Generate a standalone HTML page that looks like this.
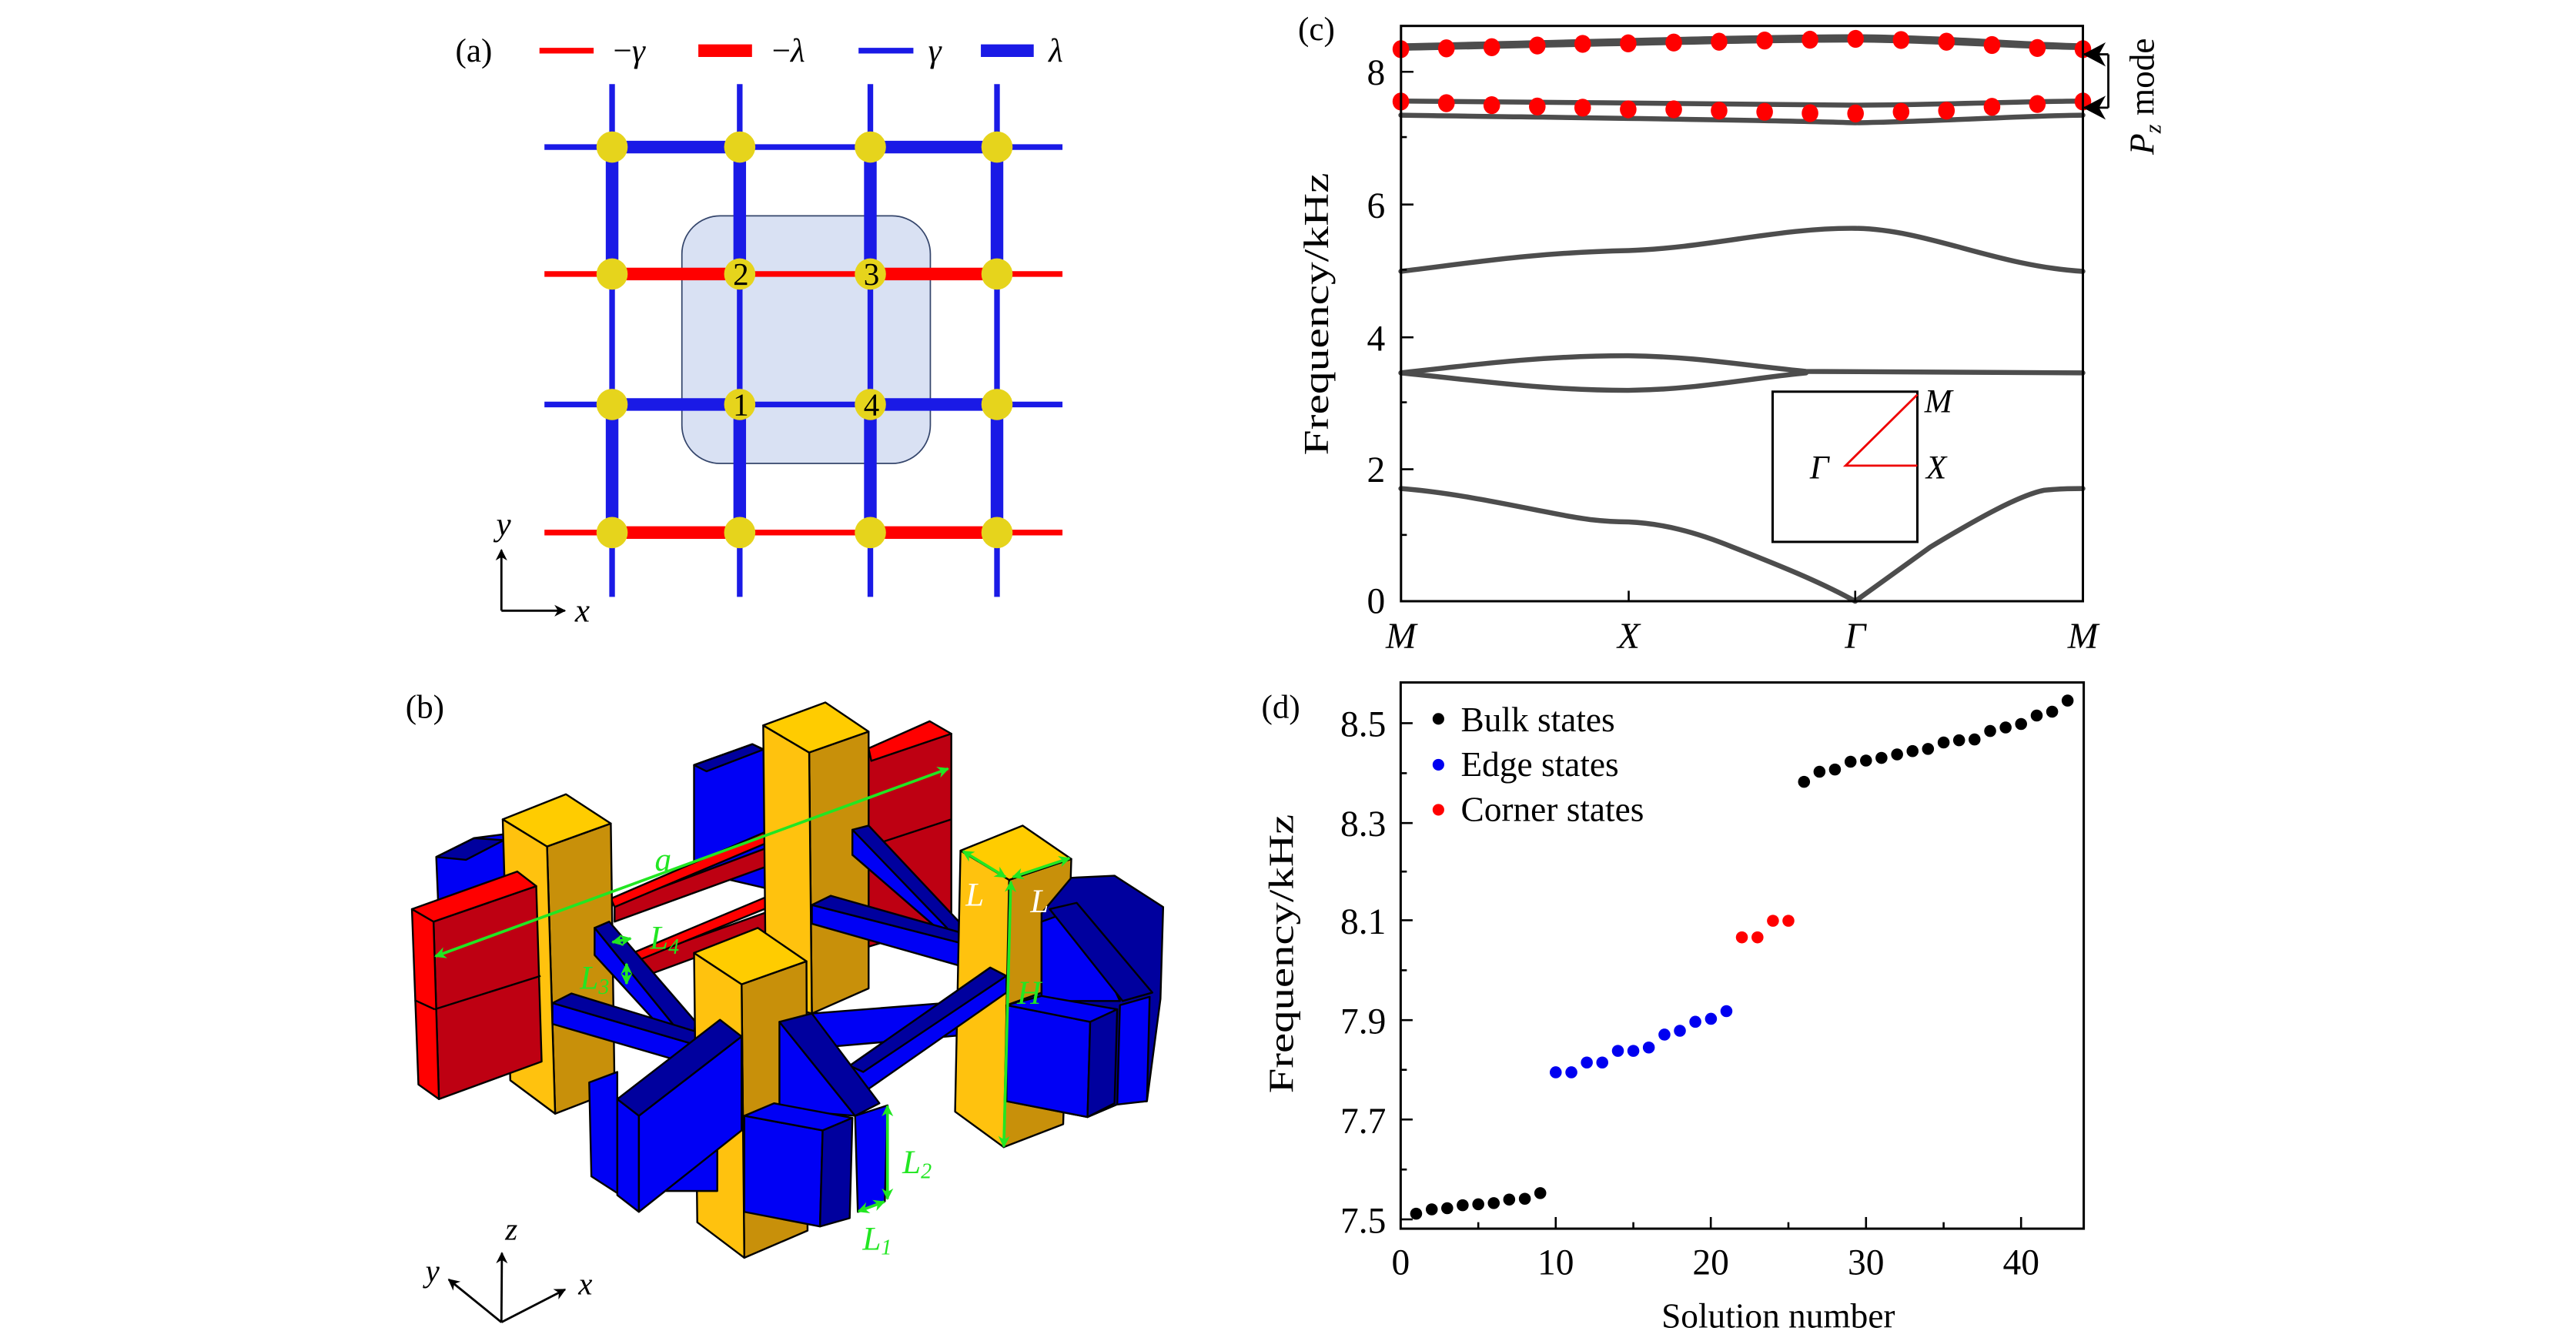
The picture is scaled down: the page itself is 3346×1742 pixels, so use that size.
<!DOCTYPE html>
<html><head><meta charset="utf-8"><style>
html,body{margin:0;padding:0;background:#fff;}
svg{display:block;}
text{font-family:"Liberation Serif",serif;}
.it{font-style:italic;}
.k{stroke:#000;stroke-width:2.4;vector-effect:non-scaling-stroke;stroke-linejoin:round;}
.g{fill:#22e622;}
.w{fill:#ffffff;}
</style></head><body>
<svg width="3346" height="1742" viewBox="0 0 1550 807" preserveAspectRatio="none" xmlns="http://www.w3.org/2000/svg">
<defs>
<marker id="ga" viewBox="0 0 10 10" refX="9" refY="5" markerWidth="7" markerHeight="7" orient="auto-start-reverse" markerUnits="userSpaceOnUse"><path d="M0,0 L10,5 L0,10 L3,5 Z" fill="#22e622"/></marker>
<marker id="ka" viewBox="0 0 10 10" refX="9" refY="5" markerWidth="7" markerHeight="7" orient="auto" markerUnits="userSpaceOnUse"><path d="M0,0 L10,5 L0,10 L3,5 Z" fill="#000"/></marker>
</defs>

<!-- ===== Panel (a) ===== -->
<text x="274" y="37" font-size="20">(a)</text>
<line x1="324.6" y1="30.5" x2="357.2" y2="30.5" stroke="#f00" stroke-width="3.4"/>
<text x="369" y="37" font-size="20">−<tspan class="it">γ</tspan></text>
<line x1="420.2" y1="30.5" x2="452.5" y2="30.5" stroke="#f00" stroke-width="7.6"/>
<text x="464.5" y="37" font-size="20">−<tspan class="it">λ</tspan></text>
<line x1="516.6" y1="30.5" x2="549.6" y2="30.5" stroke="#1a1ae6" stroke-width="3.4"/>
<text x="558.5" y="37" font-size="20" class="it">γ</text>
<line x1="590.2" y1="30.5" x2="622" y2="30.5" stroke="#1a1ae6" stroke-width="7.6"/>
<text x="631" y="37" font-size="20" class="it">λ</text>

<rect x="410.3" y="129.9" width="149.5" height="149" rx="23" fill="#d9e1f3" stroke="#34456b" stroke-width="0.8"/>
<g stroke-linecap="butt">
<g stroke="#1a1ae6">
<line x1="327.6" y1="88.5" x2="639.3" y2="88.5" stroke-width="3.4"/>
<line x1="368.3" y1="88.5" x2="445.1" y2="88.5" stroke-width="7.6"/>
<line x1="523.7" y1="88.5" x2="599.9" y2="88.5" stroke-width="7.6"/>
<line x1="327.6" y1="243.4" x2="639.3" y2="243.4" stroke-width="3.4"/>
<line x1="368.3" y1="243.4" x2="445.1" y2="243.4" stroke-width="7.6"/>
<line x1="523.7" y1="243.4" x2="599.9" y2="243.4" stroke-width="7.6"/>
</g>
<g stroke="#f00">
<line x1="327.6" y1="164.9" x2="639.3" y2="164.9" stroke-width="3.4"/>
<line x1="368.3" y1="164.9" x2="445.1" y2="164.9" stroke-width="7.6"/>
<line x1="523.7" y1="164.9" x2="599.9" y2="164.9" stroke-width="7.6"/>
<line x1="327.6" y1="320.5" x2="639.3" y2="320.5" stroke-width="3.4"/>
<line x1="368.3" y1="320.5" x2="445.1" y2="320.5" stroke-width="7.6"/>
<line x1="523.7" y1="320.5" x2="599.9" y2="320.5" stroke-width="7.6"/>
</g>
<g stroke="#1a1ae6">
<line x1="368.3" y1="50.6" x2="368.3" y2="359.2" stroke-width="3.4"/>
<line x1="368.3" y1="88.5" x2="368.3" y2="164.9" stroke-width="7.6"/>
<line x1="368.3" y1="243.4" x2="368.3" y2="320.5" stroke-width="7.6"/>
<line x1="445.1" y1="50.6" x2="445.1" y2="359.2" stroke-width="3.4"/>
<line x1="445.1" y1="88.5" x2="445.1" y2="164.9" stroke-width="7.6"/>
<line x1="445.1" y1="243.4" x2="445.1" y2="320.5" stroke-width="7.6"/>
<line x1="523.7" y1="50.6" x2="523.7" y2="359.2" stroke-width="3.4"/>
<line x1="523.7" y1="88.5" x2="523.7" y2="164.9" stroke-width="7.6"/>
<line x1="523.7" y1="243.4" x2="523.7" y2="320.5" stroke-width="7.6"/>
<line x1="599.9" y1="50.6" x2="599.9" y2="359.2" stroke-width="3.4"/>
<line x1="599.9" y1="88.5" x2="599.9" y2="164.9" stroke-width="7.6"/>
<line x1="599.9" y1="243.4" x2="599.9" y2="320.5" stroke-width="7.6"/>
</g>
</g>
<g fill="#e6d41c">
<circle cx="368.3" cy="88.5" r="9.4"/><circle cx="445.1" cy="88.5" r="9.4"/><circle cx="523.7" cy="88.5" r="9.4"/><circle cx="599.9" cy="88.5" r="9.4"/>
<circle cx="368.3" cy="164.9" r="9.4"/><circle cx="445.1" cy="164.9" r="9.4"/><circle cx="523.7" cy="164.9" r="9.4"/><circle cx="599.9" cy="164.9" r="9.4"/>
<circle cx="368.3" cy="243.4" r="9.4"/><circle cx="445.1" cy="243.4" r="9.4"/><circle cx="523.7" cy="243.4" r="9.4"/><circle cx="599.9" cy="243.4" r="9.4"/>
<circle cx="368.3" cy="320.5" r="9.4"/><circle cx="445.1" cy="320.5" r="9.4"/><circle cx="523.7" cy="320.5" r="9.4"/><circle cx="599.9" cy="320.5" r="9.4"/>
</g>
<g font-size="19" text-anchor="middle">
<text x="445.8" y="171.5">2</text><text x="524.4" y="171.5">3</text>
<text x="445.8" y="250">1</text><text x="524.4" y="250">4</text>
</g>
<line x1="301.7" y1="367.5" x2="301.7" y2="331" stroke="#000" stroke-width="1.3" marker-end="url(#ka)"/>
<line x1="301.7" y1="367.5" x2="339.9" y2="367.5" stroke="#000" stroke-width="1.3" marker-end="url(#ka)"/>
<text x="303" y="322" font-size="20" class="it" text-anchor="middle">y</text>
<text x="346" y="374" font-size="20" class="it">x</text>

<!-- ===== Panel (c) ===== -->
<text x="781" y="24" font-size="20">(c)</text>
<g fill="none" stroke="#4d4d4d" stroke-width="3" stroke-linejoin="round" stroke-linecap="round">
<path d="M842.9,294 C870,296 900,302 930,308 C955,313 965,314 979.9,314.1 C1000,315 1020,320 1042.5,329.2 C1070,340 1095,350 1116.3,361.8 L1161.5,329.2 C1190,312 1215,298 1230,295 C1240,294 1248,294 1253.3,294"/>
<path d="M842.9,224.4 C890,219 930,214 979.9,214.1 C1020,214.5 1050,220 1086.7,223.5 L1253.3,224.4"/>
<path d="M842.9,224.4 C890,229 930,235 979.9,234.9 C1020,234.5 1050,228 1086.7,224.4"/>
<path d="M842.9,163.3 C880,159 920,152 979.9,150.8 C1030,149 1070,137 1116.3,137.4 C1160,138 1200,160 1253.3,163.3"/>
<path d="M842.9,69.3 C920,70.5 1060,72 1116.3,73.9 C1170,73 1220,69.5 1253.3,69.3"/>
<path d="M842.9,60.8 C920,61.2 1060,63 1116.3,63.3 C1170,63 1220,61 1253.3,60.8"/>
<path d="M842.9,27.6 C920,26 1060,22 1116.3,22.1 C1170,22.5 1220,27 1253.3,27.6"/>
<path d="M842.9,29.1 C920,27.5 1060,24 1116.3,24.1 C1170,24.5 1220,28.5 1253.3,28.6"/>
</g>
<g fill="#f00">
<ellipse cx="842.9" cy="29.6" rx="5" ry="5.4"/><ellipse cx="870.3" cy="29.1" rx="5" ry="5.4"/><ellipse cx="897.6" cy="28.4" rx="5" ry="5.4"/><ellipse cx="925" cy="27.4" rx="5" ry="5.4"/><ellipse cx="952.3" cy="26.4" rx="5" ry="5.4"/><ellipse cx="979.7" cy="26.1" rx="5" ry="5.4"/><ellipse cx="1007.1" cy="25.6" rx="5" ry="5.4"/><ellipse cx="1034.4" cy="25.1" rx="5" ry="5.4"/><ellipse cx="1061.8" cy="24.4" rx="5" ry="5.4"/><ellipse cx="1089.1" cy="23.9" rx="5" ry="5.4"/><ellipse cx="1116.5" cy="23.4" rx="5" ry="5.4"/><ellipse cx="1143.9" cy="24.1" rx="5" ry="5.4"/><ellipse cx="1171.2" cy="25.1" rx="5" ry="5.4"/><ellipse cx="1198.6" cy="27.1" rx="5" ry="5.4"/><ellipse cx="1225.9" cy="28.9" rx="5" ry="5.4"/><ellipse cx="1253.3" cy="29.6" rx="5" ry="5.4"/>
<ellipse cx="842.9" cy="61.1" rx="5" ry="5.4"/><ellipse cx="870.3" cy="62.1" rx="5" ry="5.4"/><ellipse cx="897.6" cy="63.3" rx="5" ry="5.4"/><ellipse cx="925" cy="64.1" rx="5" ry="5.4"/><ellipse cx="952.3" cy="64.8" rx="5" ry="5.4"/><ellipse cx="979.7" cy="65.8" rx="5" ry="5.4"/><ellipse cx="1007.1" cy="65.8" rx="5" ry="5.4"/><ellipse cx="1034.4" cy="66.6" rx="5" ry="5.4"/><ellipse cx="1061.8" cy="67.3" rx="5" ry="5.4"/><ellipse cx="1089.1" cy="68.1" rx="5" ry="5.4"/><ellipse cx="1116.5" cy="68.3" rx="5" ry="5.4"/><ellipse cx="1143.9" cy="67.3" rx="5" ry="5.4"/><ellipse cx="1171.2" cy="66.6" rx="5" ry="5.4"/><ellipse cx="1198.6" cy="64.3" rx="5" ry="5.4"/><ellipse cx="1225.9" cy="62.6" rx="5" ry="5.4"/><ellipse cx="1253.3" cy="61.1" rx="5" ry="5.4"/>
</g>
<rect x="843" y="15.6" width="410.3" height="346.2" fill="none" stroke="#000" stroke-width="1.4"/>
<g stroke="#000" stroke-width="1.2">
<line x1="843" y1="43.2" x2="850.5" y2="43.2"/><line x1="843" y1="123.1" x2="850.5" y2="123.1"/><line x1="843" y1="203" x2="850.5" y2="203"/><line x1="843" y1="282.4" x2="850.5" y2="282.4"/>
<line x1="843" y1="82.5" x2="846.5" y2="82.5"/><line x1="843" y1="162.3" x2="846.5" y2="162.3"/><line x1="843" y1="242.1" x2="846.5" y2="242.1"/><line x1="843" y1="321.9" x2="846.5" y2="321.9"/>
<line x1="980" y1="361.8" x2="980" y2="355.5"/><line x1="1116.3" y1="361.8" x2="1116.3" y2="355.5"/>
</g>
<g font-size="22" text-anchor="middle">
<text x="828" y="51">8</text><text x="828" y="131">6</text><text x="828" y="211">4</text><text x="828" y="290">2</text><text x="828" y="369">0</text>
</g>
<g font-size="22" text-anchor="middle" class="it">
<text x="843" y="390">M</text><text x="980" y="390">X</text><text x="1116.3" y="390">Γ</text><text x="1253.3" y="390">M</text>
</g>
<text transform="translate(799 189) rotate(-90)" font-size="21" text-anchor="middle" textLength="170" lengthAdjust="spacingAndGlyphs">Frequency/kHz</text>
<rect x="1066.6" y="235.7" width="87.1" height="90.4" fill="none" stroke="#000" stroke-width="1.4"/>
<polyline points="1153.7,237.5 1110.5,280.2 1153.7,280.2" fill="none" stroke="#e00" stroke-width="1.3"/>
<g font-size="20" class="it">
<text x="1158" y="248">M</text><text x="1159" y="288">X</text><text x="1089" y="288">Γ</text>
</g>
<line x1="1268.6" y1="32.7" x2="1268.6" y2="64.8" stroke="#000" stroke-width="1.3"/>
<line x1="1268.6" y1="32.7" x2="1254" y2="32.7" stroke="#000" stroke-width="1.3"/>
<line x1="1268.6" y1="64.8" x2="1254" y2="64.8" stroke="#000" stroke-width="1.3"/>
<path d="M1253.3,32.7 L1267,25.5 L1263,32.7 L1267,40 Z" fill="#000"/>
<path d="M1253.3,64.8 L1267,57.6 L1263,64.8 L1267,72 Z" fill="#000"/>
<text transform="translate(1296 58) rotate(-90)" font-size="21" text-anchor="middle"><tspan class="it">P</tspan><tspan class="it" font-size="14" dy="4">z</tspan><tspan dy="-4"> mode</tspan></text>

<!-- ===== Panel (d) ===== -->
<text x="759" y="432" font-size="20">(d)</text>
<rect x="842.8" y="410.7" width="411" height="328.7" fill="none" stroke="#000" stroke-width="1.4"/>
<g stroke="#000" stroke-width="1.2">
<line x1="842.8" y1="435.2" x2="850" y2="435.2"/><line x1="842.8" y1="495.3" x2="850" y2="495.3"/><line x1="842.8" y1="553.8" x2="850" y2="553.8"/><line x1="842.8" y1="613.9" x2="850" y2="613.9"/><line x1="842.8" y1="673.7" x2="850" y2="673.7"/><line x1="842.8" y1="733.8" x2="850" y2="733.8"/>
<line x1="842.8" y1="465.3" x2="846.5" y2="465.3"/><line x1="842.8" y1="524.5" x2="846.5" y2="524.5"/><line x1="842.8" y1="583.9" x2="846.5" y2="583.9"/><line x1="842.8" y1="643.8" x2="846.5" y2="643.8"/><line x1="842.8" y1="703.8" x2="846.5" y2="703.8"/>
<line x1="936.1" y1="739.4" x2="936.1" y2="732.4"/><line x1="1029.4" y1="739.4" x2="1029.4" y2="732.4"/><line x1="1122.8" y1="739.4" x2="1122.8" y2="732.4"/><line x1="1216.1" y1="739.4" x2="1216.1" y2="732.4"/>
<line x1="889.5" y1="739.4" x2="889.5" y2="735.5"/><line x1="982.8" y1="739.4" x2="982.8" y2="735.5"/><line x1="1076.1" y1="739.4" x2="1076.1" y2="735.5"/><line x1="1169.5" y1="739.4" x2="1169.5" y2="735.5"/>
</g>
<g font-size="22" text-anchor="end">
<text x="834" y="443">8.5</text><text x="834" y="503">8.3</text><text x="834" y="562">8.1</text><text x="834" y="622">7.9</text><text x="834" y="682">7.7</text><text x="834" y="742">7.5</text>
</g>
<g font-size="22" text-anchor="middle">
<text x="842.8" y="767">0</text><text x="936.1" y="767">10</text><text x="1029.4" y="767">20</text><text x="1122.8" y="767">30</text><text x="1216.1" y="767">40</text>
</g>
<text x="1070" y="799" font-size="21" text-anchor="middle">Solution number</text>
<text transform="translate(778 574) rotate(-90)" font-size="21" text-anchor="middle" textLength="168" lengthAdjust="spacingAndGlyphs">Frequency/kHz</text>
<circle cx="865.5" cy="432.6" r="3.5" fill="#000"/><text x="879" y="440" font-size="21">Bulk states</text>
<circle cx="865.5" cy="460.2" r="3.5" fill="#0000f0"/><text x="879" y="467" font-size="21">Edge states</text>
<circle cx="865.5" cy="487.3" r="3.5" fill="#f00"/><text x="879" y="494" font-size="21">Corner states</text>
<g fill="#000">
<circle cx="852.1" cy="730.4" r="3.6"/><circle cx="861.5" cy="727.8" r="3.6"/><circle cx="870.8" cy="727.1" r="3.6"/><circle cx="880.1" cy="725.3" r="3.6"/><circle cx="889.5" cy="724.7" r="3.6"/><circle cx="898.8" cy="724" r="3.6"/><circle cx="908.1" cy="721.9" r="3.6"/><circle cx="917.5" cy="721.4" r="3.6"/><circle cx="926.8" cy="718" r="3.6"/>
<circle cx="1085.5" cy="470.5" r="3.6"/><circle cx="1094.8" cy="464.4" r="3.6"/><circle cx="1104.1" cy="463.1" r="3.6"/><circle cx="1113.5" cy="458.4" r="3.6"/><circle cx="1122.8" cy="457.7" r="3.6"/><circle cx="1132.1" cy="456.1" r="3.6"/><circle cx="1141.5" cy="454" r="3.6"/><circle cx="1150.8" cy="452" r="3.6"/><circle cx="1160.1" cy="450.7" r="3.6"/><circle cx="1169.5" cy="446.8" r="3.6"/><circle cx="1178.8" cy="445.5" r="3.6"/><circle cx="1188.1" cy="445" r="3.6"/><circle cx="1197.5" cy="439.9" r="3.6"/><circle cx="1206.8" cy="437.8" r="3.6"/><circle cx="1216.1" cy="435.7" r="3.6"/><circle cx="1225.5" cy="430.6" r="3.6"/><circle cx="1234.8" cy="428.3" r="3.6"/><circle cx="1244.1" cy="421.6" r="3.6"/>
</g>
<g fill="#0000f0">
<circle cx="936.1" cy="645.3" r="3.6"/><circle cx="945.5" cy="645.3" r="3.6"/><circle cx="954.8" cy="639.4" r="3.6"/><circle cx="964.1" cy="639.4" r="3.6"/><circle cx="973.5" cy="632.4" r="3.6"/><circle cx="982.8" cy="632.4" r="3.6"/><circle cx="992.1" cy="630.4" r="3.6"/><circle cx="1001.5" cy="622.6" r="3.6"/><circle cx="1010.8" cy="620.3" r="3.6"/><circle cx="1020.1" cy="614.9" r="3.6"/><circle cx="1029.5" cy="613.1" r="3.6"/><circle cx="1038.8" cy="608.5" r="3.6"/>
</g>
<g fill="#f00">
<circle cx="1048.1" cy="564.1" r="3.6"/><circle cx="1057.5" cy="564.1" r="3.6"/><circle cx="1066.8" cy="554.1" r="3.6"/><circle cx="1076.1" cy="554.1" r="3.6"/>
</g>

<!-- ===== Panel (b) ===== -->
<text x="244" y="432" font-size="20">(b)</text>
<g transform="translate(231.6 393.8) scale(0.3252 0.2513)">
<polygon class="k" fill="#0000f5" points="95,485 165,440 225,430 225,640 100,640"/>
<polygon class="k" fill="#00009e" points="95,485 165,440 220,445 150,492"/>
<polygon class="k" fill="#0000f5" points="572,265 680,215 705,230 705,560 572,520"/>
<polygon class="k" fill="#00009e" points="572,265 680,215 700,228 595,280"/>
<polygon class="k" fill="#be0012" points="895,235 1048,190 1048,640 895,700"/>
<polygon class="k" fill="#f00" points="895,225 1008,160 1048,190 900,255"/>
<line class="k" x1="895" y1="460" x2="1048" y2="395"/>
<polygon class="k" fill="#be0012" points="425,600 755,440 755,485 425,640"/>
<polygon class="k" fill="#f00" points="418,585 735,408 755,425 425,605"/>
<polygon class="k" fill="#be0012" points="440,740 755,595 755,640 440,790"/>
<polygon class="k" fill="#f00" points="440,725 735,565 755,582 445,745"/>
<polygon class="k" fill="#c8900a" points="785,235 895,185 895,800 790,860"/>
<polygon class="k" fill="#ffc20e" points="700,170 785,235 790,860 705,830"/>
<polygon class="k" fill="#ffcc00" points="700,170 815,115 895,185 785,235"/>
<polygon class="k" fill="#00009e" points="865,420 895,410 1062,640 1062,690 1030,665 865,480"/>
<polygon class="k" fill="#0000f5" points="865,420 865,480 1030,665 1040,655"/>
<polygon class="k" fill="#0000f5" points="790,600 1062,690 1062,745 790,645"/>
<polygon class="k" fill="#00009e" points="790,600 825,578 1062,665 1062,690"/>
<polygon class="k" fill="#c8900a" points="300,460 418,405 425,1045 315,1100"/>
<polygon class="k" fill="#ffc20e" points="218,395 300,460 315,1100 232,1020"/>
<polygon class="k" fill="#ffcc00" points="218,395 335,335 418,405 300,460"/>
<polygon class="k" fill="#00009e" points="388,655 415,640 575,880 570,925 545,905"/>
<polygon class="k" fill="#0000f5" points="388,655 545,905 540,935 388,720"/>
<polygon class="k" fill="#0000f5" points="310,835 575,935 575,985 310,885"/>
<polygon class="k" fill="#00009e" points="310,835 345,812 580,905 575,935"/>
<polygon class="k" fill="#0000f5" points="790,860 1085,830 1085,910 820,940"/>
<polygon class="k" fill="#be0012" points="90,640 280,555 290,975 100,1065"/>
<polygon class="k" fill="#f00" points="50,610 90,640 100,1065 62,1030"/>
<polygon class="k" fill="#f00" points="50,610 245,520 280,555 90,640"/>
<line class="k" x1="92" y1="850" x2="288" y2="770"/>
<line class="k" x1="55" y1="828" x2="92" y2="850"/>
<polygon class="k" fill="#c8900a" points="1155,540 1270,490 1255,1125 1145,1180"/>
<polygon class="k" fill="#ffc20e" points="1065,470 1155,540 1145,1180 1055,1095"/>
<polygon class="k" fill="#ffcc00" points="1065,470 1180,410 1270,490 1155,540"/>
<polygon class="k" fill="#0000f5" points="860,985 1120,750 1150,770 1150,810 890,1045"/>
<polygon class="k" fill="#00009e" points="860,985 1120,750 1150,770 885,1000"/>
<polygon class="k" fill="#00009e" points="1215,620 1270,535 1350,530 1440,605 1435,825 1410,1070 1360,1075 1300,1108 1150,1070 1150,840 1215,810"/>
<polygon class="k" fill="#0000f5" points="1215,640 1280,610 1360,830 1215,830"/>
<polygon class="k" fill="#00009e" points="1230,610 1280,595 1420,810 1365,830"/>
<polygon class="k" fill="#0000f5" points="1150,840 1305,880 1300,1108 1150,1070"/>
<polygon class="k" fill="#0000f5" points="1150,840 1215,818 1355,850 1305,880"/>
<polygon class="k" fill="#00009e" points="1305,880 1355,850 1350,1075 1300,1108"/>
<polygon class="k" fill="#0000f5" points="1360,840 1415,820 1410,1070 1355,1078"/>
<polygon class="k" fill="#c8900a" points="660,790 780,735 782,1380 665,1445"/>
<polygon class="k" fill="#ffc20e" points="572,715 660,790 665,1445 578,1360"/>
<polygon class="k" fill="#ffcc00" points="572,715 690,655 780,735 660,790"/>
<polygon class="k" fill="#0000f5" points="520,1020 615,1020 615,1285 520,1285"/>
<polygon class="k" fill="#0000f5" points="378,1025 430,1000 430,1290 382,1250"/>
<polygon class="k" fill="#0000f5" points="430,1065 470,1105 470,1335 430,1295"/>
<polygon class="k" fill="#0000f5" points="470,1105 660,915 660,1140 470,1335"/>
<polygon class="k" fill="#00009e" points="430,1065 620,875 660,915 470,1105"/>
<polygon class="k" fill="#0000f5" points="730,880 870,1105 730,1090"/>
<polygon class="k" fill="#00009e" points="730,880 790,860 915,1075 870,1105"/>
<polygon class="k" fill="#0000f5" points="870,1105 930,1080 925,1310 875,1335"/>
<polygon class="k" fill="#0000f5" points="665,1105 810,1140 805,1370 665,1335"/>
<polygon class="k" fill="#0000f5" points="665,1105 720,1075 865,1110 810,1140"/>
<polygon class="k" fill="#00009e" points="810,1140 865,1110 860,1350 805,1370"/>
</g>
<g stroke="#22e622" stroke-width="1.7" fill="none">
<line x1="262" y1="575.5" x2="570.5" y2="462.6" marker-start="url(#ga)" marker-end="url(#ga)"/>
<line x1="579.5" y1="512.3" x2="605" y2="527.8" marker-start="url(#ga)" marker-end="url(#ga)"/>
<line x1="609.5" y1="527.8" x2="643.5" y2="516.5" marker-start="url(#ga)" marker-end="url(#ga)"/>
<line x1="608.2" y1="530.5" x2="604" y2="690" marker-start="url(#ga)" marker-end="url(#ga)"/>
<line x1="368.5" y1="567" x2="379.5" y2="564.8" marker-start="url(#ga)" marker-end="url(#ga)"/>
<line x1="377" y1="580" x2="377" y2="592" marker-start="url(#ga)" marker-end="url(#ga)"/>
<line x1="534" y1="665.5" x2="534" y2="721.5" marker-start="url(#ga)" marker-end="url(#ga)"/>
<line x1="516.5" y1="729" x2="532" y2="723.2" marker-start="url(#ga)" marker-end="url(#ga)"/>
</g>
<g font-size="20" class="it">
<text x="394" y="524" class="g it">a</text>
<text x="612" y="604" class="g it">H</text>
<text x="391" y="571" class="g it">L<tspan font-size="13" dy="3">4</tspan></text>
<text x="349" y="595" class="g it">L<tspan font-size="13" dy="3">3</tspan></text>
<text x="543" y="706" class="g it">L<tspan font-size="13" dy="3">2</tspan></text>
<text x="519" y="752" class="g it">L<tspan font-size="13" dy="3">1</tspan></text>
<text x="581" y="545" class="w it">L</text>
<text x="620" y="549" class="w it">L</text>
</g>
<g stroke="#000" stroke-width="1.3">
<line x1="301.7" y1="795.7" x2="302" y2="754" marker-end="url(#ka)"/>
<line x1="301.7" y1="795.7" x2="270" y2="770" marker-end="url(#ka)"/>
<line x1="301.7" y1="795.7" x2="340" y2="776" marker-end="url(#ka)"/>
</g>
<text x="304" y="746" font-size="19" class="it">z</text>
<text x="256" y="771" font-size="19" class="it">y</text>
<text x="348" y="779" font-size="19" class="it">x</text>
</svg>
</body></html>
